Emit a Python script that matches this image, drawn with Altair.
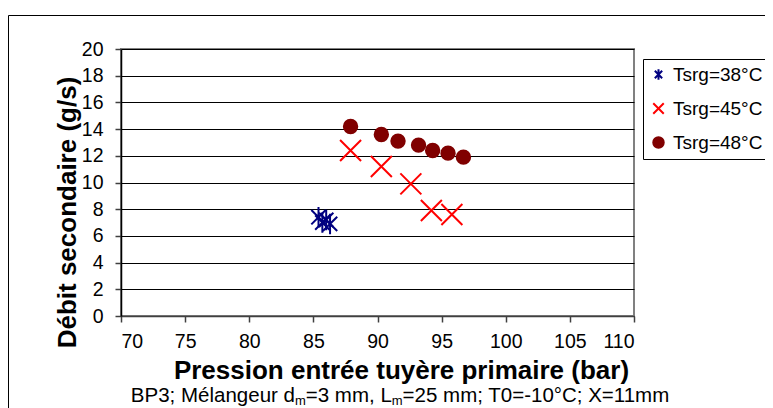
import altair as alt
import pandas as pd

# ---- data ----
series_names = ["Tsrg=38°C", "Tsrg=45°C", "Tsrg=48°C"]

x_38 = [85.4, 85.7, 86.0, 86.3]
y_38 = [7.4, 7.0, 7.2, 6.9]

x_45 = [87.9, 90.3, 92.6, 94.2, 95.8]
y_45 = [12.4, 11.2, 9.9, 7.9, 7.6]

x_48 = [87.9, 90.3, 91.6, 93.2, 94.3, 95.5, 96.7]
y_48 = [14.2, 13.6, 13.1, 12.8, 12.4, 12.2, 11.9]

x_ticks = [70, 75, 80, 85, 90, 95, 100, 105, 110]
y_ticks = [0, 2, 4, 6, 8, 10, 12, 14, 16, 18, 20]

x_title = "Pression entrée tuyère primaire (bar)"
y_title = "Débit secondaire (g/s)"
# subtitle pieces: (text, is_subscript)
note_parts = [("BP3; Mélangeur d", False), ("m", True), ("=3 mm, L", False),
              ("m", True), ("=25 mm; T0=-10°C; X=11mm", False)]

rows = []
for name, xs, ys in zip(series_names, [x_38, x_45, x_48], [y_38, y_45, y_48]):
    for a, b in zip(xs, ys):
        rows.append({"series": name, "p": a, "d": b})
df = pd.DataFrame(rows)

FONT = "Liberation Sans"
ASTERISK = "M-0.7,-0.7L0.7,0.7M-0.7,0.7L0.7,-0.7M0,-1L0,1"
XMARK = "M-1,-1L1,1M-1,1L1,-1"

leg = alt.Legend(title=None, orient="none", legendX=522, legendY=10)

base = alt.Chart(df).encode(
    x=alt.X("p:Q", scale=alt.Scale(domain=[70, 110], nice=False, zero=False),
            axis=alt.Axis(values=x_ticks, title=x_title, grid=False,
                          titleX=280, titleY=62, titleBaseline="alphabetic",
                          titleAlign="center", titleAnchor=None)),
    y=alt.Y("d:Q", scale=alt.Scale(domain=[0, 20], nice=False),
            axis=alt.Axis(values=y_ticks, title=y_title, grid=True,
                          titleX=-46, titleY=163, titleAngle=270,
                          titleBaseline="alphabetic", titleAlign="center")),
    stroke=alt.Stroke("series:N",
                      scale=alt.Scale(domain=series_names,
                                      range=["#000080", "#FF0000", "#800000"]),
                      legend=leg),
    fill=alt.Fill("series:N",
                  scale=alt.Scale(domain=series_names,
                                  range=["transparent", "transparent", "#800000"]),
                  legend=leg),
    shape=alt.Shape("series:N",
                    scale=alt.Scale(domain=series_names,
                                    range=[ASTERISK, XMARK, "circle"]),
                    legend=leg),
)

sizes = [420, 441, 180]
point_layers = [
    base.transform_filter(alt.datum.series == name).mark_point(
        size=s, strokeWidth=2, opacity=1, fillOpacity=1, strokeOpacity=1)
    for name, s in zip(series_names, sizes)
]

frame = alt.Chart(alt.Data(values=[{}])).mark_rect(
    fillOpacity=0, stroke="black", strokeWidth=1
).encode(
    x=alt.value(-112.5), x2=alt.value(700),
    y=alt.value(-33.5), y2=alt.value(400),
)

# subtitle built from pieces so that the "m" can be a subscript
ARIAL = {"B": 667, "P": 667, "3": 556, ";": 278, " ": 278, "M": 833, "é": 556,
         "l": 222, "a": 556, "n": 556, "g": 556, "e": 556, "u": 556, "r": 333,
         "d": 556, "m": 833, "=": 584, ",": 278, "L": 556, "2": 556, "5": 556,
         "T": 611, "0": 556, "-": 333, "1": 556, "°": 400, "C": 722, "X": 667}
NOTE_SIZE = 20.5
SUB_SIZE = 13


def text_w(s, size):
    return sum(ARIAL.get(c, 556) for c in s) * size / 1000.0


widths = [text_w(t, SUB_SIZE if sub else NOTE_SIZE) for t, sub in note_parts]
cx = 280
x0 = cx - sum(widths) / 2.0
note_layers = []
for (t, sub), w in zip(note_parts, widths):
    note_layers.append(
        alt.Chart(alt.Data(values=[{}])).mark_text(
            text=t, font=FONT, fontSize=SUB_SIZE if sub else NOTE_SIZE,
            color="black", align="left", baseline="alphabetic"
        ).encode(x=alt.value(x0), y=alt.value(355.5 if sub else 352.5))
    )
    x0 += w

chart = alt.layer(frame, *point_layers, *note_layers).properties(
    width=513, height=267,
    autosize=alt.AutoSizeParams(type="none"),
    padding={"left": 113, "top": 41, "right": 131, "bottom": 92},
).configure_view(
    stroke="#808080", strokeWidth=2
).configure_axis(
    labelFont=FONT, labelFontSize=19.5, labelColor="black",
    titleFont=FONT, titleFontSize=26, titleFontWeight="bold", titleColor="black",
    tickColor="#404040", tickSize=6, tickWidth=1.5,
    domainColor="#404040", domainWidth=1.5,
    gridColor="black", gridWidth=1,
).configure_axisY(
    labelPadding=12, domainColor="black"
).configure_axisX(
    labelPadding=10
).configure_legend(
    labelFont=FONT, labelFontSize=19, labelColor="black",
    symbolSize=110, symbolStrokeWidth=2,
    strokeColor="black", padding=6, rowPadding=14, labelOffset=5,
    fillColor="white", cornerRadius=0,
)

chart.save("out.html", embed_options={"renderer": "svg", "actions": False})
